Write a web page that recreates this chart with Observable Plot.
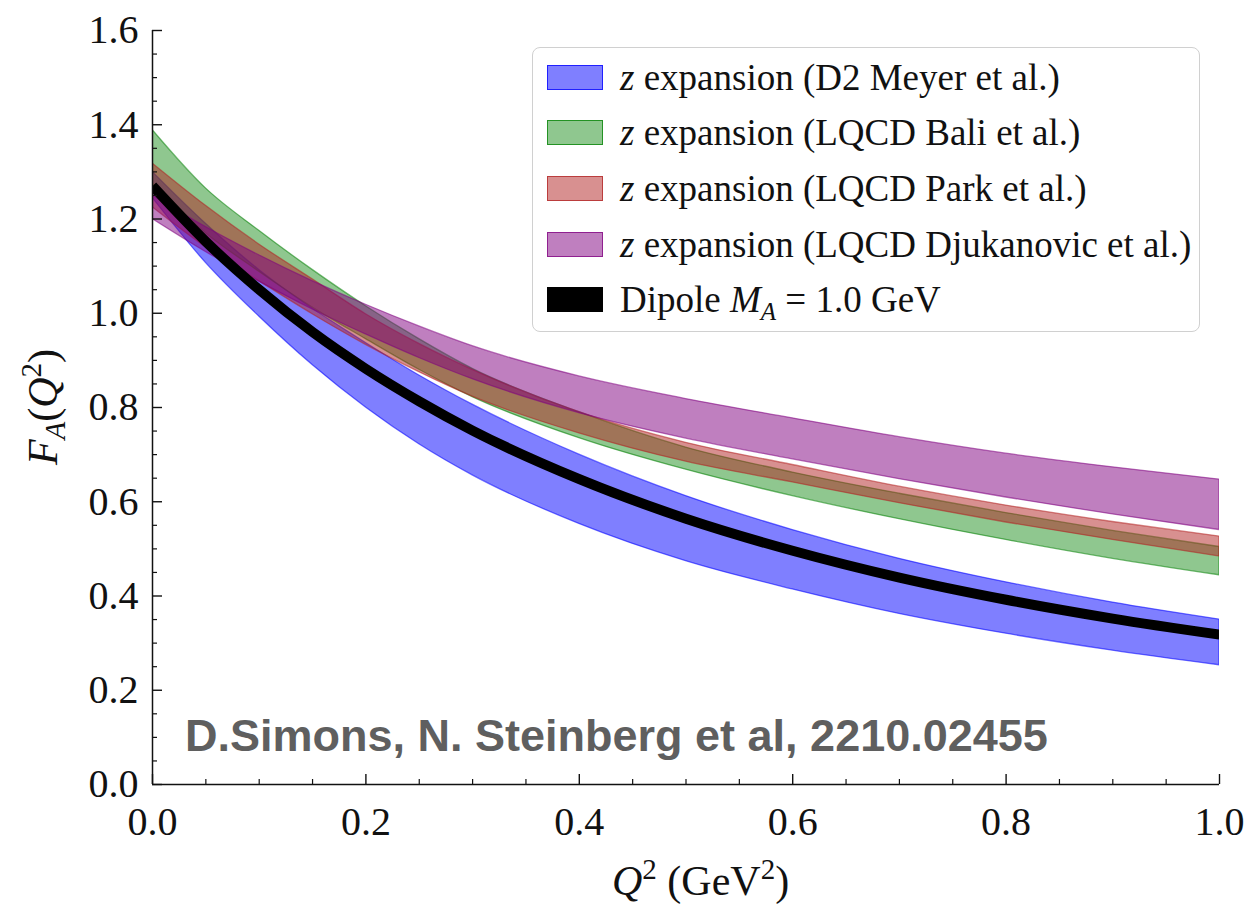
<!DOCTYPE html>
<html>
<head>
<meta charset="utf-8">
<script src="https://cdn.jsdelivr.net/npm/d3@7"></script>
<script src="https://cdn.jsdelivr.net/npm/@observablehq/plot@0.6"></script>
<style>
  body { margin: 0; background: #fff; }
  #wrap { position: relative; width: 1247px; height: 921px; }
  .legend {
    position: absolute; left: 532px; top: 47px; width: 668px; height: 285px;
    box-sizing: border-box; border: 1.5px solid #d0d0d0; border-radius: 8px;
    background: rgba(255,255,255,0.85);
    font-family: "Liberation Serif", serif; font-size: 37px; color: #111;
  }
  .row { position: absolute; left: 14px; height: 40px; display: flex; align-items: center; white-space: nowrap; }
  .sw { width: 56px; height: 25px; box-sizing: border-box; margin-right: 17px; border-width: 1.5px; border-style: solid; }
  .sub { font-size: 25px; position: relative; top: 8px; font-style: italic; }
</style>
</head>
<body>
<div id="wrap"></div>
<script>
// Q^2 sample points (GeV^2)
const q2 = [0, 0.05, 0.1, 0.15, 0.2, 0.25, 0.3, 0.4, 0.5, 0.6, 0.7, 0.8, 0.9, 1.0];

// Dipole form factor, M_A = 1.0 GeV
const dipole = [1.270, 1.152, 1.050, 0.960, 0.882, 0.813, 0.751, 0.648, 0.564, 0.496, 0.439, 0.392, 0.352, 0.318];

// z expansion, D2 Meyer et al.
const meyerHi = [1.300, 1.190, 1.092, 1.010, 0.937, 0.868, 0.806, 0.700, 0.612, 0.540, 0.479, 0.429, 0.386, 0.350];
const meyerLo = [1.245, 1.107, 0.993, 0.890, 0.800, 0.722, 0.656, 0.553, 0.474, 0.414, 0.362, 0.320, 0.284, 0.253];

// z expansion, LQCD Bali et al.
const baliHi = [1.389, 1.265, 1.175, 1.092, 1.015, 0.945, 0.882, 0.790, 0.715, 0.662, 0.617, 0.576, 0.538, 0.504];
const baliLo = [1.275, 1.170, 1.088, 1.012, 0.945, 0.880, 0.822, 0.735, 0.668, 0.612, 0.563, 0.519, 0.479, 0.444];

// z expansion, LQCD Park et al.
const parkHi = [1.318, 1.228, 1.146, 1.072, 0.998, 0.935, 0.880, 0.790, 0.725, 0.678, 0.632, 0.592, 0.557, 0.526];
const parkLo = [1.225, 1.140, 1.068, 0.998, 0.933, 0.875, 0.823, 0.745, 0.685, 0.641, 0.597, 0.556, 0.519, 0.484];

// z expansion, LQCD Djukanovic et al.
const djukHi = [1.250, 1.183, 1.123, 1.068, 1.018, 0.972, 0.930, 0.866, 0.818, 0.777, 0.737, 0.702, 0.673, 0.647];
const djukLo = [1.200, 1.130, 1.067, 1.008, 0.955, 0.905, 0.860, 0.788, 0.734, 0.690, 0.648, 0.609, 0.573, 0.540];

// Axis ticks
const xMajor = [0, 0.2, 0.4, 0.6, 0.8, 1.0];
const xMinor = [0.05, 0.1, 0.15, 0.25, 0.3, 0.35, 0.45, 0.5, 0.55, 0.65, 0.7, 0.75, 0.85, 0.9, 0.95];
const yMajor = [0, 0.2, 0.4, 0.6, 0.8, 1.0, 1.2, 1.4, 1.6];
const yMinor = [0.05, 0.1, 0.15, 0.25, 0.3, 0.35, 0.45, 0.5, 0.55, 0.65, 0.7, 0.75, 0.85, 0.9, 0.95,
                1.05, 1.1, 1.15, 1.25, 1.3, 1.35, 1.45, 1.5, 1.55];

const bands = [
  {label: "(D2 Meyer et al.)", color: "#0000ff", opacity: 0.5, hi: meyerHi, lo: meyerLo},
  {label: "(LQCD Bali et al.)", color: "#008000", opacity: 0.44, hi: baliHi, lo: baliLo},
  {label: "(LQCD Park et al.)", color: "#b22222", opacity: 0.5, hi: parkHi, lo: parkLo},
  {label: "(LQCD Djukanovic et al.)", color: "#800080", opacity: 0.5, hi: djukHi, lo: djukLo}
];

const bandRows = b => q2.map((q, i) => ({q2: q, hi: b.hi[i], lo: b.lo[i]}));
const dipoleRows = q2.map((q, i) => ({q2: q, f: dipole[i]}));
const fmt = d => d.toFixed(1);

const chart = Plot.plot({
  width: 1247,
  height: 921,
  marginLeft: 152,
  marginRight: 28,
  marginTop: 30,
  marginBottom: 137,
  x: {domain: [0, 1]},
  y: {domain: [0, 1.6]},
  style: {fontFamily: "'Liberation Serif', serif", fontSize: "40px", background: "white", color: "#111"},
  marks: [
    ...bands.map(b => Plot.areaY(bandRows(b), {
      x: "q2", y1: "lo", y2: "hi", curve: "monotone-x", clip: true,
      fill: b.color, fillOpacity: b.opacity,
      stroke: b.color, strokeOpacity: 0.55, strokeWidth: 1.3
    })),
    Plot.line(dipoleRows, {x: "q2", y: "f", stroke: "black", strokeWidth: 10, strokeLinecap: "butt", curve: "monotone-x", clip: true}),
    // spines
    Plot.ruleX([0], {stroke: "#111", strokeWidth: 1.5}),
    Plot.ruleY([0], {stroke: "#111", strokeWidth: 1.5}),
    // inward ticks
    Plot.axisX(xMajor, {tickSize: -10, text: null, label: null, strokeWidth: 1.4}),
    Plot.axisX(xMinor, {tickSize: -5, text: null, label: null, strokeWidth: 1.2}),
    Plot.axisY(yMajor, {tickSize: -10, text: null, label: null, strokeWidth: 1.4}),
    Plot.axisY(yMinor, {tickSize: -5, text: null, label: null, strokeWidth: 1.2}),
    // tick labels
    Plot.axisX(xMajor, {tickSize: 0, tickPadding: 22, tickFormat: fmt, label: null}),
    Plot.axisY(yMajor, {tickSize: 0, tickPadding: 14, tickFormat: fmt, label: null})
  ]
});

document.getElementById("wrap").appendChild(chart);

const svg = d3.select(chart);

// y-axis title: F_A(Q^2)
const yt = svg.append("text")
  .attr("transform", "translate(57,407) rotate(-90)")
  .attr("text-anchor", "middle")
  .attr("font-family", "'Liberation Serif', serif")
  .attr("font-size", 42)
  .attr("fill", "#111");
yt.append("tspan").attr("font-style", "italic").text("F");
yt.append("tspan").attr("font-style", "italic").attr("font-size", 29).attr("dy", 8).text("A");
yt.append("tspan").attr("dy", -8).text("(");
yt.append("tspan").attr("font-style", "italic").text("Q");
yt.append("tspan").attr("font-size", 29).attr("dy", -16).text("2");
yt.append("tspan").attr("dy", 16).text(")");

// x-axis title: Q^2 (GeV^2)
const xt = svg.append("text")
  .attr("x", 612).attr("y", 895)
  .attr("text-anchor", "start")
  .attr("font-family", "'Liberation Serif', serif")
  .attr("font-size", 42)
  .attr("fill", "#111");
xt.append("tspan").attr("font-style", "italic").text("Q");
xt.append("tspan").attr("font-size", 29).attr("dy", -16).text("2");
xt.append("tspan").attr("dy", 16).text(" (GeV");
xt.append("tspan").attr("font-size", 29).attr("dy", -16).text("2");
xt.append("tspan").attr("dy", 16).text(")");

// reference annotation
svg.append("text")
  .attr("x", 185).attr("y", 751)
  .attr("text-anchor", "start")
  .attr("font-family", "'Liberation Sans', Arial, sans-serif")
  .attr("font-weight", "bold")
  .attr("font-size", 45)
  .attr("fill", "#5f5f5f")
  .text("D.Simons, N. Steinberg et al, 2210.02455");

// legend
const legend = document.createElement("div");
legend.className = "legend";
const centers = [31, 86, 142, 198, 253];
bands.forEach((b, i) => {
  const row = document.createElement("div");
  row.className = "row";
  row.style.top = (centers[i] - 21.5) + "px";
  const sw = document.createElement("div");
  sw.className = "sw";
  const c = d3.color(b.color);
  sw.style.background = `rgba(${c.r},${c.g},${c.b},${b.opacity})`;
  sw.style.borderColor = `rgba(${c.r},${c.g},${c.b},0.75)`;
  row.appendChild(sw);
  const t = document.createElement("span");
  t.innerHTML = `<i>z</i> expansion ${b.label}`;
  row.appendChild(t);
  legend.appendChild(row);
});
{
  const row = document.createElement("div");
  row.className = "row";
  row.style.top = (centers[4] - 21.5) + "px";
  const sw = document.createElement("div");
  sw.className = "sw";
  sw.style.background = "#000";
  sw.style.borderColor = "#000";
  row.appendChild(sw);
  const t = document.createElement("span");
  t.innerHTML = `Dipole <i>M</i><span class="sub">A</span> = 1.0 GeV`;
  row.appendChild(t);
  legend.appendChild(row);
}
document.getElementById("wrap").appendChild(legend);
</script>
</body>
</html>
